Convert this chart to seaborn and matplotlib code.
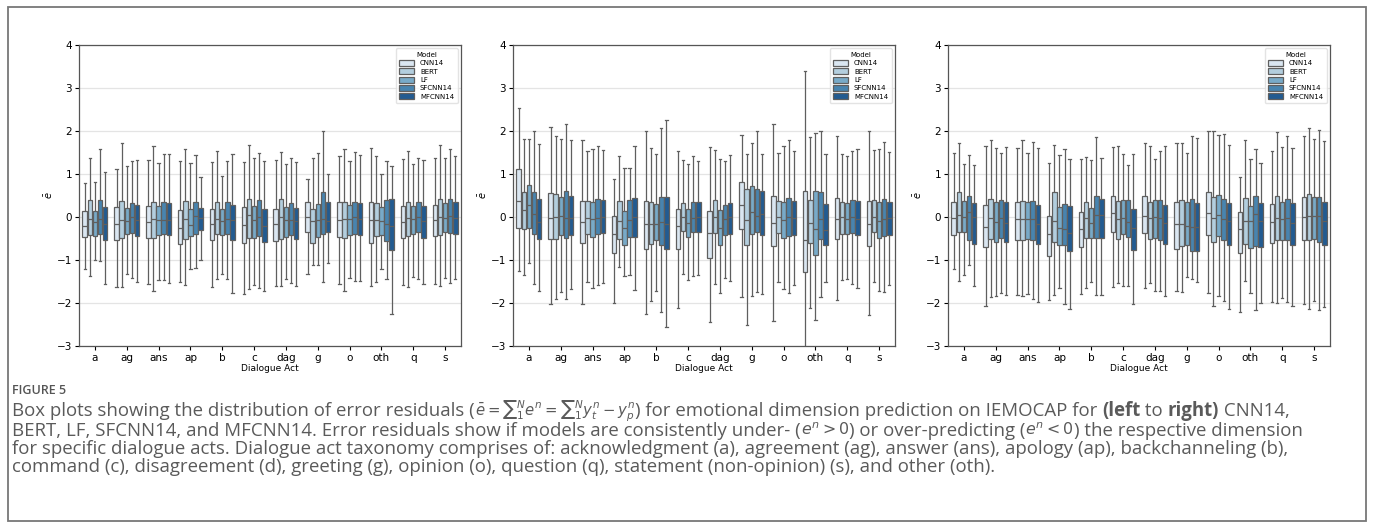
import matplotlib
matplotlib.use("Agg")
import matplotlib.pyplot as plt
import pandas as pd
import seaborn as sns
from matplotlib.patches import Rectangle

categories = ['a', 'ag', 'ans', 'ap', 'b', 'c', 'dag', 'g', 'o', 'oth', 'q', 's']
models = ['CNN14', 'BERT', 'LF', 'SFCNN14', 'MFCNN14']

# each box: (lower whisker, q1, median, q3, upper whisker), one per dialogue act
# left panel
p1_cnn14 = [(-1.20, -0.47, -0.22, 0.13, 0.78), (-1.62, -0.53, -0.16, 0.23, 1.12), (-1.55, -0.49, -0.12, 0.26, 1.32),
            (-1.50, -0.62, -0.26, 0.17, 1.31), (-1.63, -0.54, -0.16, 0.19, 1.27), (-1.80, -0.61, -0.18, 0.23, 1.28),
            (-1.60, -0.56, -0.17, 0.19, 1.33), (-1.32, -0.34, -0.01, 0.36, 0.89), (-1.55, -0.47, -0.08, 0.35, 1.41),
            (-1.61, -0.60, -0.06, 0.36, 1.61), (-1.59, -0.49, -0.12, 0.25, 1.34), (-1.55, -0.44, -0.08, 0.29, 1.38)]
p1_bert = [(-1.37, -0.43, -0.04, 0.40, 1.38), (-1.62, -0.48, -0.06, 0.37, 1.71), (-1.72, -0.48, -0.05, 0.36, 1.64),
           (-1.59, -0.51, -0.05, 0.37, 1.59), (-1.44, -0.39, -0.05, 0.36, 1.53), (-1.68, -0.49, 0.04, 0.43, 1.67),
           (-1.61, -0.52, -0.01, 0.41, 1.51), (-1.12, -0.61, -0.09, 0.19, 1.37), (-1.71, -0.48, -0.05, 0.36, 1.58),
           (-1.50, -0.44, -0.08, 0.33, 1.42), (-1.63, -0.45, -0.02, 0.36, 1.54), (-1.61, -0.41, -0.01, 0.42, 1.68)]
p1_lf = [(-1.00, -0.45, -0.12, 0.14, 0.81), (-1.33, -0.39, -0.09, 0.22, 1.18), (-1.47, -0.43, -0.08, 0.25, 1.26),
         (-1.20, -0.44, -0.19, 0.19, 1.26), (-1.32, -0.41, -0.09, 0.19, 0.95), (-1.58, -0.48, -0.08, 0.26, 1.38),
         (-1.44, -0.47, -0.08, 0.23, 1.24), (-1.11, -0.47, -0.08, 0.31, 1.50), (-1.41, -0.41, -0.05, 0.27, 1.30),
         (-1.21, -0.43, -0.09, 0.23, 1.01), (-1.40, -0.40, -0.05, 0.26, 1.23), (-1.41, -0.36, -0.02, 0.32, 1.38)]
p1_sfcnn14 = [(-1.03, -0.39, -0.04, 0.40, 1.58), (-1.41, -0.37, 0.00, 0.33, 1.30), (-1.47, -0.40, -0.08, 0.35, 1.46),
              (-1.18, -0.40, 0.03, 0.36, 1.44), (-1.44, -0.39, -0.05, 0.34, 1.31), (-1.66, -0.45, -0.01, 0.40, 1.49),
              (-1.54, -0.43, -0.06, 0.33, 1.37), (-1.51, -0.40, -0.04, 0.58, 2.01), (-1.49, -0.40, 0.00, 0.35, 1.51),
              (-1.44, -0.56, -0.16, 0.40, 1.30), (-1.44, -0.36, -0.01, 0.35, 1.38), (-1.54, -0.37, 0.02, 0.41, 1.58)]
p1_mfcnn14 = [(-1.55, -0.54, -0.17, 0.23, 1.04), (-1.51, -0.44, -0.08, 0.29, 1.33), (-1.54, -0.43, -0.08, 0.33, 1.47),
              (-0.99, -0.31, -0.02, 0.22, 0.94), (-1.76, -0.54, -0.08, 0.27, 1.47), (-1.71, -0.59, -0.20, 0.19, 1.31),
              (-1.61, -0.52, -0.09, 0.21, 1.29), (-1.06, -0.36, -0.09, 0.34, 0.99), (-1.49, -0.43, -0.04, 0.33, 1.45),
              (-2.25, -0.76, -0.20, 0.42, 1.19), (-1.55, -0.48, -0.09, 0.25, 1.33), (-1.44, -0.39, -0.02, 0.34, 1.43)]

# middle panel
p2_cnn14 = [(-1.26, -0.25, 0.37, 1.12, 2.54), (-2.03, -0.51, -0.02, 0.56, 2.09), (-2.02, -0.61, -0.12, 0.37, 1.78),
            (-2.01, -0.84, -0.39, 0.02, 0.88), (-2.25, -0.74, -0.16, 0.37, 1.99), (-2.11, -0.74, -0.22, 0.19, 1.54),
            (-2.44, -0.95, -0.37, 0.13, 1.63), (-1.85, -0.28, 0.29, 0.81, 1.90), (-2.41, -0.67, -0.13, 0.49, 2.17),
            (-3.10, -1.27, -0.54, 0.60, 3.40), (-1.94, -0.52, -0.05, 0.44, 1.88), (-2.29, -0.68, -0.16, 0.37, 1.99)]
p2_bert = [(-1.34, -0.28, 0.16, 0.58, 1.82), (-1.90, -0.50, -0.01, 0.53, 1.88), (-1.50, -0.39, -0.02, 0.37, 1.54),
           (-1.16, -0.51, -0.09, 0.37, 1.41), (-1.96, -0.62, -0.16, 0.36, 1.61), (-1.32, -0.33, -0.01, 0.33, 1.32),
           (-1.55, -0.37, 0.00, 0.39, 1.55), (-2.50, -0.65, -0.06, 0.66, 1.47), (-1.51, -0.37, 0.00, 0.37, 1.50),
           (-2.11, -0.60, -0.13, 0.40, 1.85), (-1.47, -0.39, -0.01, 0.36, 1.47), (-1.50, -0.36, -0.01, 0.39, 1.55)]
p2_lf = [(-1.06, -0.25, 0.29, 0.75, 1.81), (-1.75, -0.43, 0.02, 0.47, 1.82), (-1.65, -0.47, -0.05, 0.34, 1.57),
         (-1.38, -0.64, -0.25, 0.14, 1.14), (-1.71, -0.54, -0.17, 0.31, 1.47), (-1.47, -0.47, -0.14, 0.19, 1.23),
         (-1.76, -0.64, -0.26, 0.16, 1.34), (-1.83, -0.39, 0.11, 0.71, 1.73), (-1.68, -0.49, -0.06, 0.36, 1.64),
         (-2.39, -0.89, -0.29, 0.61, 1.96), (-1.44, -0.39, -0.05, 0.33, 1.43), (-1.71, -0.48, -0.10, 0.35, 1.58)]
p2_sfcnn14 = [(-1.56, -0.39, 0.07, 0.59, 1.99), (-1.90, -0.48, -0.02, 0.61, 2.16), (-1.58, -0.40, -0.02, 0.41, 1.64),
              (-1.36, -0.47, -0.08, 0.39, 1.14), (-2.21, -0.64, -0.12, 0.47, 2.06), (-1.37, -0.36, -0.02, 0.36, 1.43),
              (-1.43, -0.43, -0.04, 0.28, 1.30), (-1.75, -0.36, 0.02, 0.65, 1.99), (-1.76, -0.44, 0.00, 0.45, 1.78),
              (-1.86, -0.51, -0.04, 0.58, 1.99), (-1.55, -0.37, -0.01, 0.40, 1.54), (-1.75, -0.45, -0.04, 0.43, 1.75)]
p2_mfcnn14 = [(-1.72, -0.50, -0.11, 0.43, 1.70), (-1.68, -0.41, -0.03, 0.48, 1.80), (-1.54, -0.37, 0.00, 0.40, 1.55),
              (-1.69, -0.47, 0.00, 0.45, 1.66), (-2.56, -0.74, -0.16, 0.47, 2.26), (-1.34, -0.36, -0.01, 0.36, 1.31),
              (-1.49, -0.39, -0.01, 0.33, 1.45), (-1.78, -0.42, 0.08, 0.61, 1.47), (-1.57, -0.42, -0.02, 0.37, 1.54),
              (-1.50, -0.64, -0.31, 0.31, 1.47), (-1.64, -0.43, -0.04, 0.37, 1.58), (-1.58, -0.41, -0.03, 0.36, 1.52)]

# right panel
p3_cnn14 = [(-1.21, -0.41, -0.03, 0.35, 1.50), (-2.07, -0.70, -0.23, 0.29, 1.65), (-1.82, -0.53, -0.04, 0.36, 1.61),
            (-1.92, -0.91, -0.39, 0.03, 1.26), (-1.78, -0.70, -0.27, 0.12, 1.36), (-1.63, -0.36, 0.10, 0.49, 1.63),
            (-1.65, -0.37, 0.02, 0.50, 1.72), (-1.73, -0.74, -0.17, 0.35, 1.71), (-1.77, -0.41, 0.10, 0.57, 2.00),
            (-2.20, -0.84, -0.28, 0.12, 0.92), (-1.97, -0.60, -0.12, 0.31, 1.54), (-2.02, -0.53, 0.00, 0.47, 1.89)]
p3_bert = [(-1.49, -0.36, 0.05, 0.57, 1.73), (-1.86, -0.51, -0.02, 0.42, 1.78), (-1.84, -0.53, -0.05, 0.37, 1.78),
           (-1.81, -0.58, -0.09, 0.57, 1.68), (-1.65, -0.49, -0.02, 0.36, 1.40), (-1.54, -0.51, -0.05, 0.38, 1.66),
           (-1.54, -0.52, -0.03, 0.36, 1.65), (-1.75, -0.67, -0.17, 0.40, 1.71), (-2.06, -0.57, -0.02, 0.47, 2.00),
           (-1.48, -0.62, -0.10, 0.45, 1.78), (-2.00, -0.53, -0.02, 0.48, 1.98), (-2.13, -0.54, 0.02, 0.53, 2.06)]
p3_lf = [(-1.35, -0.36, 0.00, 0.37, 1.23), (-1.84, -0.59, -0.12, 0.35, 1.61), (-1.79, -0.51, -0.05, 0.36, 1.48),
         (-1.64, -0.66, -0.26, 0.23, 1.45), (-1.51, -0.49, -0.14, 0.22, 1.32), (-1.60, -0.39, -0.02, 0.39, 1.46),
         (-1.71, -0.48, 0.00, 0.39, 1.36), (-1.40, -0.66, -0.21, 0.35, 1.50), (-1.84, -0.45, 0.05, 0.52, 1.90),
         (-1.76, -0.72, -0.09, 0.26, 1.35), (-1.89, -0.54, -0.05, 0.35, 1.63), (-1.96, -0.52, 0.02, 0.47, 1.82)]
p3_sfcnn14 = [(-1.12, -0.54, 0.12, 0.50, 1.45), (-1.77, -0.48, -0.02, 0.40, 1.49), (-1.90, -0.53, -0.05, 0.37, 1.75),
              (-2.03, -0.66, -0.29, 0.31, 1.58), (-1.82, -0.48, 0.05, 0.50, 1.85), (-1.61, -0.47, -0.12, 0.39, 1.20),
              (-1.71, -0.53, -0.02, 0.39, 1.54), (-1.44, -0.80, -0.23, 0.42, 1.88), (-1.96, -0.54, -0.04, 0.43, 1.92),
              (-2.16, -0.68, 0.07, 0.49, 1.57), (-1.97, -0.54, -0.03, 0.43, 1.89), (-2.16, -0.58, 0.02, 0.47, 2.02)]
p3_mfcnn14 = [(-1.61, -0.62, 0.00, 0.33, 1.22), (-1.81, -0.59, -0.13, 0.34, 1.63), (-1.97, -0.62, -0.16, 0.28, 1.60),
              (-2.13, -0.79, -0.37, 0.25, 1.35), (-1.82, -0.48, 0.04, 0.41, 1.38), (-2.02, -0.76, -0.26, 0.19, 1.46),
              (-1.84, -0.62, -0.13, 0.29, 1.64), (-1.52, -0.80, -0.23, 0.33, 1.84), (-2.13, -0.65, -0.09, 0.33, 1.68),
              (-2.00, -0.70, -0.09, 0.33, 1.26), (-2.06, -0.64, -0.13, 0.32, 1.61), (-2.09, -0.64, -0.09, 0.35, 1.76)]

panels = [
    [p1_cnn14, p1_bert, p1_lf, p1_sfcnn14, p1_mfcnn14],
    [p2_cnn14, p2_bert, p2_lf, p2_sfcnn14, p2_mfcnn14],
    [p3_cnn14, p3_bert, p3_lf, p3_sfcnn14, p3_mfcnn14],
]


def make_frame(panel):
    # the five summary numbers of a box reproduce it exactly with whis=(0, 100)
    rows = []
    for model, boxes in zip(models, panel):
        for act, five in zip(categories, boxes):
            for v in five:
                rows.append((act, model, v))
    return pd.DataFrame(rows, columns=['Dialogue Act', 'Model', 'e'])


fig = plt.figure(figsize=(13.75, 5.22), dpi=100)
W, H = 1375.0, 522.0

lefts = [79, 513, 948]
for left, panel in zip(lefts, panels):
    ax = fig.add_axes([left / W, 176 / H, 382 / W, 301 / H])
    df = make_frame(panel)
    sns.boxplot(data=df, x='Dialogue Act', y='e', hue='Model', order=categories, hue_order=models,
                palette='Blues', whis=(0, 100), linewidth=0.9, linecolor='#5f5f5f', gap=0.12, ax=ax)
    ax.set_ylim(-3, 4)
    ax.set_yticks(range(-3, 5))
    ax.yaxis.grid(True, color='#e4e4e4', linewidth=0.9)
    ax.set_axisbelow(True)
    ax.tick_params(labelsize=7.5, length=3, width=0.8, pad=2)
    ax.set_xlabel('Dialogue Act', fontsize=6.5, labelpad=1)
    ax.set_ylabel(r'$\bar{e}$', fontsize=7, labelpad=1)
    for sp in ax.spines.values():
        sp.set_color('#555555')
        sp.set_linewidth(0.9)
    sns.move_legend(ax, 'upper right', title='Model', fontsize=5, title_fontsize=5,
                    handlelength=2.2, handleheight=0.9, labelspacing=0.3, borderpad=0.5,
                    frameon=True, edgecolor='#dddddd')

# caption
cap_family = ['Open Sans', 'DejaVu Sans']
cap_color = '#5a5a5a'
fig.text(12 / W, 1 - 390 / H, 'FIGURE 5', fontsize=9, family=cap_family, color='#555555',
         fontweight='semibold', va='center')

S = '\u2211'
# pieces: (text, weight, size factor)
lines = [
    [('Box plots showing the distribution of error residuals (', 'normal', 1.0),
     ('$\\bar{e} = ' + S + '_1^N e^n = ' + S + '_1^N y_t^n - y_p^n$', 'normal', 0.8),
     (') for emotional dimension prediction on IEMOCAP for ', 'normal', 1.0),
     ('(left', 'bold', 1.0), (' to ', 'normal', 1.0), ('right)', 'bold', 1.0), (' CNN14,', 'normal', 1.0)],
    [('BERT, LF, SFCNN14, and MFCNN14. Error residuals show if models are consistently under- (', 'normal', 1.0),
     ('$e^n > 0$', 'normal', 0.85), (') or over-predicting (', 'normal', 1.0), ('$e^n < 0$', 'normal', 0.85),
     (') the respective dimension', 'normal', 1.0)],
    [('for specific dialogue acts. Dialogue act taxonomy comprises of: acknowledgment (a), agreement (ag), '
      'answer (ans), apology (ap), backchanneling (b),', 'normal', 1.0)],
    [('command (c), disagreement (d), greeting (g), opinion (o), question (q), statement (non-opinion) (s), '
      'and other (oth).', 'normal', 1.0)],
]
line_y = [411, 431, 449, 467]
line_end = [1345, 1332, 1195, 997]

renderer = fig.canvas.get_renderer()
cap_fs = 10.0
texts = []
for pieces, y in zip(lines, line_y):
    row = []
    for s, w, f in pieces:
        row.append((fig.text(12 / W, 1 - y / H, s, fontsize=cap_fs * f, family=cap_family, fontweight=w,
                             color=cap_color, va='center'), f))
    texts.append(row)

# one font size for all lines, chosen so the lines end about where the reference's do
ratios = []
for row, end in zip(texts, line_end):
    width = sum(t.get_window_extent(renderer).width for t, f in row)
    ratios.append((end - 12) / width)
scale = sum(ratios) / len(ratios)
for row in texts:
    x = 12 / W
    for t, f in row:
        t.set_fontsize(cap_fs * scale * f)
        t.set_x(x)
        x += t.get_window_extent(renderer).width / W

fig.patches.append(Rectangle((8 / W, 1 / H), 1358 / W, 514 / H, transform=fig.transFigure,
                             fill=False, edgecolor='#777777', linewidth=1.3))

fig.savefig('out.png', dpi=100)
